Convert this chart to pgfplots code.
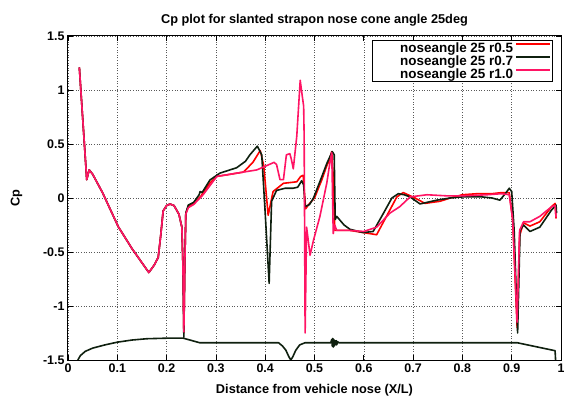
\documentclass[border=0pt]{standalone}
\usepackage{pgfplots}
\pgfplotsset{compat=1.18}
\usepackage{fontspec}
\setmainfont{Liberation Sans}
\definecolor{cpred}{RGB}{255,0,0}
\definecolor{cpblack}{RGB}{15,32,15}
\definecolor{cppink}{RGB}{255,20,100}
\begin{document}
\begin{tikzpicture}
\begin{axis}[
  at={(0,0)}, anchor=south west,
  scale only axis, width=493bp, height=324bp,
  xmin=0, xmax=1, ymin=-1.5, ymax=1.5,
  xtick={0,0.1,...,1.0}, ytick={-1.5,-1,...,1.5},
  xticklabels={0,0.1,0.2,0.3,0.4,0.5,0.6,0.7,0.8,0.9,1},
  yticklabels={-1.5,-1,-0.5,0,0.5,1,1.5},
  tick align=inside, major tick length=5bp,
  tick style={black, line width=0.8bp},
  axis line style={line width=1bp},
  grid=major,
  major grid style={black!65, dash pattern=on 1bp off 1.6bp, line width=0.45bp},
  font=\fontsize{12.5}{14}\selectfont\bfseries,
  tick label style={font=\fontsize{12.5}{14}\selectfont\bfseries},
  /pgf/number format/assume math mode=true,
  title={Cp plot for slanted strapon nose cone angle 25deg},
  title style={font=\fontsize{12.8}{14}\selectfont\bfseries, yshift=0bp},
  xlabel={Distance from vehicle nose (X/L)},
  ylabel={Cp},
  xlabel style={font=\fontsize{12.8}{14}\selectfont\bfseries, yshift=-5bp},
  ylabel style={font=\fontsize{12.8}{14}\selectfont\bfseries, yshift=14bp},
  legend style={at={(0.984,0.988)}, anchor=north east, draw=black, line width=0.8bp,
    font=\fontsize{13.5}{13}\selectfont\bfseries, inner xsep=2bp, inner ysep=1.5bp,
    nodes={inner ysep=0.8bp}},
  legend cell align=right,
  legend plot pos=right,
  legend image code/.code={\draw[#1, line width=1.6bp] (0bp,4bp) -- (34bp,4bp);},
  every axis plot/.append style={line width=1.6bp, line join=round},
]
% r0.5
\addplot[cpred] coordinates {
(0.023,1.21) (0.038,0.17) (0.043,0.26) (0.05,0.22) (0.07,0.05) (0.102,-0.266) (0.13,-0.47) (0.164,-0.69) (0.175,-0.62) (0.183,-0.55) (0.188,-0.35) (0.193,-0.12) (0.2,-0.07) (0.207,-0.056) (0.215,-0.07) (0.225,-0.15) (0.231,-0.27) (0.233,-0.6) (0.235,-1.25) (0.237,-0.6) (0.239,-0.14) (0.244,-0.08)
(0.255,-0.05) (0.27,0.02) (0.288,0.14) (0.302,0.2) (0.33,0.22) (0.356,0.24) (0.375,0.33) (0.39,0.44) (0.397,0.3) (0.406,-0.16) (0.416,0.06) (0.437,0.136) (0.464,0.15) (0.472,0.2) (0.477,0.21) (0.482,-0.1) (0.49,-0.05) (0.5,0.0) (0.515,0.17) (0.525,0.3) (0.53,0.35) (0.535,0.43) (0.538,0.2) (0.541,-0.3) (0.545,-0.3) (0.572,-0.3) (0.599,-0.32) (0.626,-0.34) (0.646,-0.17) (0.667,0.01) (0.68,0.05) (0.704,0.0) (0.724,-0.05) (0.755,-0.03) (0.775,0.0) (0.8,0.03) (0.83,0.04) (0.86,0.04) (0.88,0.05) (0.895,0.05) (0.902,-0.2) (0.911,-1.2) (0.916,-0.35) (0.924,-0.23) (0.937,-0.26) (0.957,-0.22) (0.981,-0.08) (0.988,-0.05) (0.99,-0.19)
};
\addlegendentry{\hspace*{24bp}noseangle 25 r0.5}
% r0.7
\addplot[cpblack] coordinates {
(0.023,1.21) (0.038,0.17) (0.043,0.26) (0.05,0.22) (0.07,0.05) (0.102,-0.266) (0.13,-0.47) (0.164,-0.69) (0.175,-0.62) (0.183,-0.55) (0.188,-0.35) (0.193,-0.12) (0.2,-0.07) (0.207,-0.056) (0.215,-0.07) (0.225,-0.15) (0.231,-0.27) (0.233,-0.6) (0.235,-1.29) (0.237,-0.6) (0.239,-0.14) (0.244,-0.065)
(0.255,-0.04) (0.266,0.03) (0.268,0.06) (0.272,0.05) (0.288,0.167) (0.308,0.23) (0.342,0.28) (0.36,0.34) (0.369,0.40) (0.384,0.48) (0.393,0.40) (0.40,-0.14) (0.408,-0.79) (0.413,-0.03) (0.423,0.07) (0.44,0.09) (0.456,0.09) (0.466,0.1) (0.474,0.16) (0.478,0.12) (0.481,-0.08) (0.49,-0.06) (0.498,0.0) (0.515,0.2) (0.525,0.32) (0.536,0.43) (0.540,0.40) (0.542,-0.2) (0.545,-0.17) (0.56,-0.25) (0.572,-0.29) (0.599,-0.32) (0.619,-0.31) (0.64,-0.14) (0.657,0.0) (0.67,0.04) (0.682,0.03) (0.694,0.01) (0.714,-0.055) (0.748,-0.02) (0.775,0.0) (0.8,0.01) (0.84,0.01) (0.86,0.0) (0.876,-0.02) (0.887,0.04) (0.895,0.09) (0.900,0.06) (0.905,-0.3) (0.912,-1.25) (0.917,-0.3) (0.924,-0.25) (0.937,-0.31) (0.957,-0.27) (0.981,-0.11) (0.99,-0.065) (0.991,-0.14)
};
\addlegendentry{\hspace*{24bp}noseangle 25 r0.7}
% r1.0
\addplot[cppink] coordinates {
(0.023,1.21) (0.038,0.17) (0.043,0.26) (0.05,0.22) (0.07,0.05) (0.102,-0.266) (0.13,-0.47) (0.164,-0.69) (0.175,-0.62) (0.183,-0.55) (0.188,-0.35) (0.193,-0.12) (0.2,-0.07) (0.207,-0.056) (0.215,-0.07) (0.225,-0.15) (0.231,-0.27) (0.233,-0.6) (0.235,-1.24) (0.237,-0.6) (0.239,-0.15) (0.244,-0.09)
(0.255,-0.06) (0.274,0.03) (0.302,0.2) (0.342,0.23) (0.383,0.26) (0.403,0.3) (0.418,0.33) (0.423,0.31) (0.43,0.17) (0.437,0.17) (0.443,0.4) (0.45,0.41) (0.453,0.36) (0.457,0.27) (0.464,0.57) (0.471,1.09) (0.475,0.95) (0.478,0.85) (0.479,0.57) (0.481,-1.25) (0.484,-0.27) (0.491,-0.53) (0.498,-0.39) (0.511,-0.17) (0.525,0.14) (0.531,0.32) (0.535,0.42) (0.538,-0.33) (0.541,-0.25) (0.545,-0.3) (0.572,-0.3) (0.6,-0.31) (0.626,-0.27) (0.653,-0.14) (0.673,-0.08) (0.694,0.01) (0.728,0.03) (0.768,0.02) (0.8,0.02) (0.85,0.03) (0.88,0.04) (0.895,0.03) (0.902,-0.2) (0.911,-1.15) (0.916,-0.3) (0.924,-0.22) (0.937,-0.22) (0.957,-0.17) (0.981,-0.08) (0.988,-0.07) (0.99,-0.18)
};
\addlegendentry{\hspace*{24bp}noseangle 25 r1.0}
% vehicle profile
\addplot[cpblack, forget plot] coordinates {
(0.02,-1.5) (0.025,-1.46) (0.035,-1.42) (0.05,-1.39) (0.075,-1.36) (0.1,-1.335) (0.13,-1.315) (0.16,-1.303) (0.2,-1.298) (0.233,-1.297) (0.267,-1.34) (0.427,-1.34) (0.435,-1.37) (0.442,-1.41) (0.448,-1.47) (0.452,-1.5) (0.456,-1.47) (0.462,-1.41) (0.47,-1.36) (0.481,-1.34)
(0.533,-1.34) (0.535,-1.31) (0.536,-1.37) (0.537,-1.30) (0.538,-1.38) (0.539,-1.31) (0.540,-1.37) (0.541,-1.32) (0.542,-1.36) (0.544,-1.32) (0.545,-1.36) (0.547,-1.33) (0.549,-1.34)
(0.911,-1.34) (0.988,-1.414) (0.989,-1.5)
};
\end{axis}
\pgfresetboundingbox
\useasboundingbox (-68bp,-42bp) rectangle (496bp,360bp);
\end{tikzpicture}
\end{document}
